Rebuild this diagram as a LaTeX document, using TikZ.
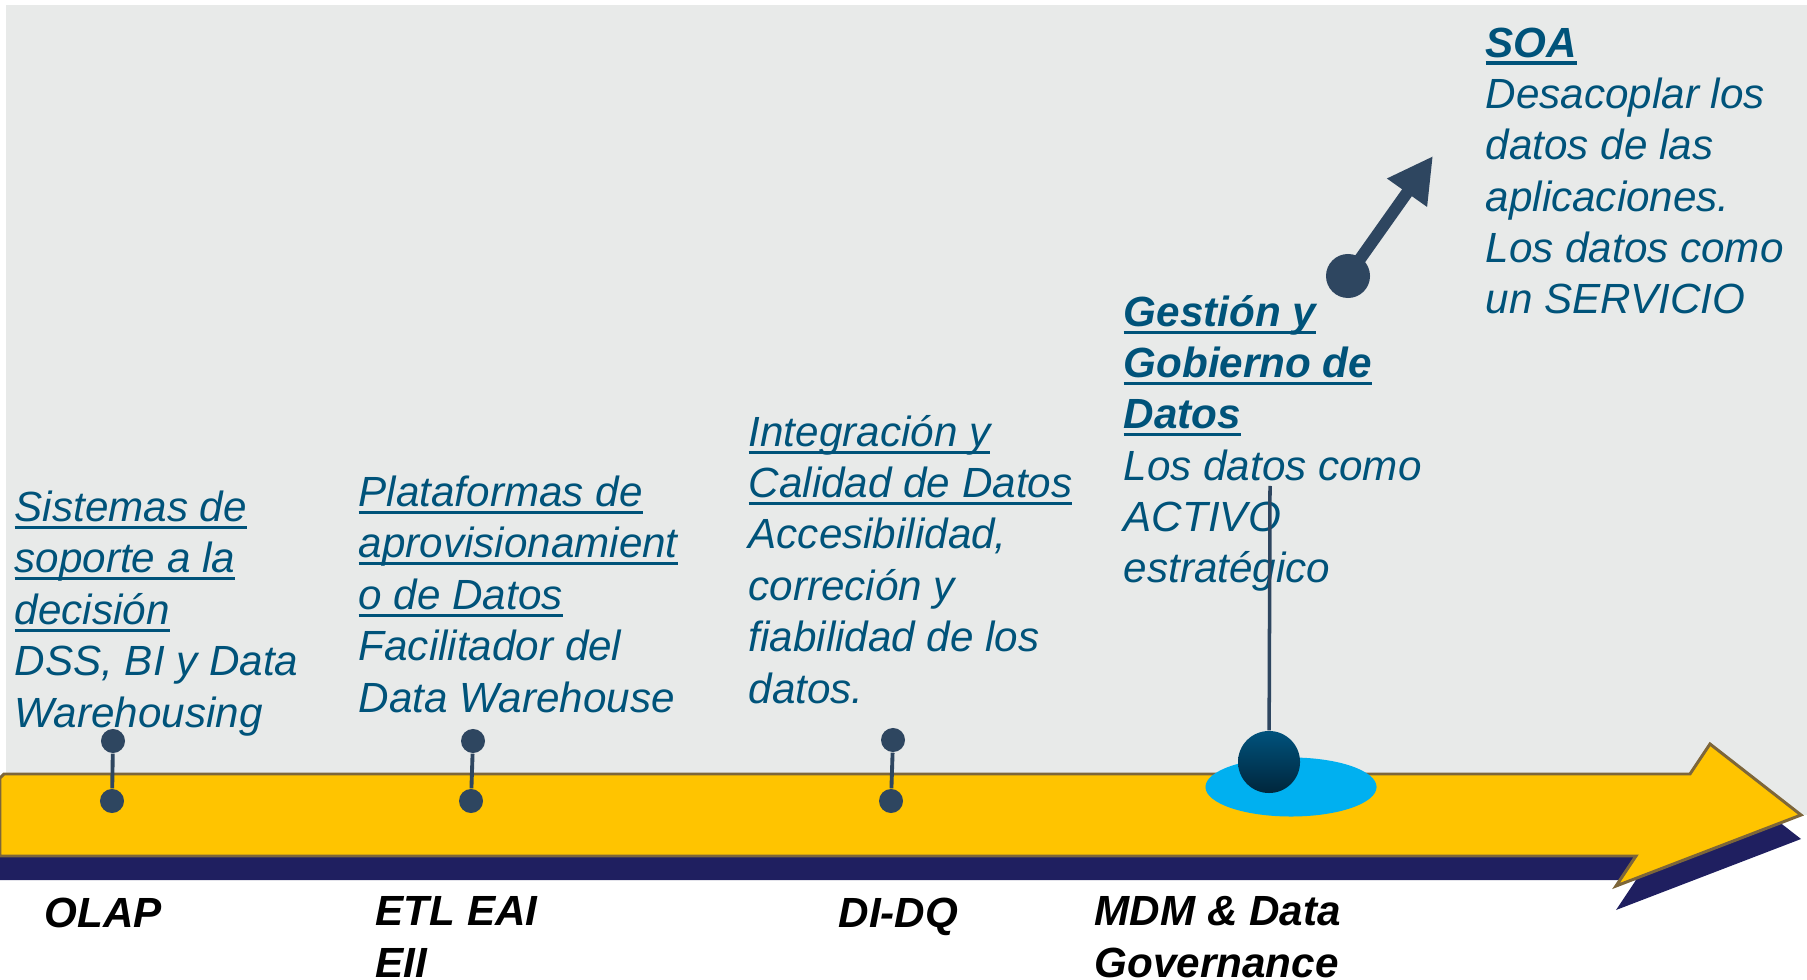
\documentclass[tikz,border=0pt]{standalone}
\usepackage{fontspec}
\setmainfont{Liberation Sans}
\usetikzlibrary{arrows.meta,shapes.geometric,shadings}
\definecolor{bgGray}{RGB}{232,234,233}
\definecolor{arrowYellow}{RGB}{255,196,0}
\definecolor{arrowEdge}{RGB}{125,102,58}
\definecolor{arrowNavy}{RGB}{31,31,96}
\definecolor{pinBlue}{RGB}{46,70,96}
\definecolor{textBlue}{RGB}{0,83,122}
\definecolor{poolCyan}{RGB}{0,176,240}
\definecolor{ballTop}{RGB}{0,82,124}
\definecolor{ballBot}{RGB}{0,38,60}
\newsavebox\ulbox
\newcommand\ulin[1]{\sbox\ulbox{#1}\rlap{\rule[-2.1pt]{\wd\ulbox}{0.9pt}}\usebox\ulbox}
\tikzset{
  stagetext/.style={anchor=base west, inner sep=0pt, align=left, text=textBlue,
    font=\itshape\fontsize{12}{14.6}\selectfont},
  tooltext/.style={anchor=base west, inner sep=0pt, align=left,
    font=\bfseries\itshape\fontsize{12}{14.6}\selectfont},
  pindot/.style={circle, fill=pinBlue, inner sep=0pt, minimum size=0.24cm},
  pinline/.style={draw=pinBlue, line width=1.1pt},
  timeline/.style={line width=0.85pt, line join=miter},
}
\begin{document}
\begin{tikzpicture}[x=0.01cm, y=-0.01cm]
\useasboundingbox (0,0) rectangle (1807,980);
\fill[bgGray] (6,5) rectangle (1807,815);
% timeline arrow
\fill[arrowNavy, shift={(0,24)}] (0,778) -- (4,774) -- (1690,774) -- (1710,744) -- (1801,815)
  -- (1616,886) -- (1636,856) -- (0,856) -- cycle;
\filldraw[timeline, fill=arrowYellow, draw=arrowEdge] (0,778) -- (4,774) -- (1690,774) -- (1710,744)
  -- (1801,815) -- (1616,886) -- (1636,856) -- (0,856) -- cycle;
% pins
\node[pindot] (olapT) at (113,741){};
\node[pindot] (olapB) at (112,801){};
\draw[pinline] (olapT) -- (olapB);
\node[pindot] (etlT) at (473,741){};
\node[pindot] (etlB) at (471,801){};
\draw[pinline] (etlT) -- (etlB);
\node[pindot] (didqT) at (893,740){};
\node[pindot] (didqB) at (891,801){};
\draw[pinline] (didqT) -- (didqB);
\node[ellipse, fill=poolCyan, inner sep=0pt, minimum width=1.71cm, minimum height=0.59cm] (pool) at (1291,787){};
\node[circle, inner sep=0pt, minimum size=0.62cm, top color=ballTop, bottom color=ballBot] (mdmBall) at (1269,762){};
% stage texts (anchored at the baseline of their last line)
\node[stagetext] (dss) at (14,727) {\ulin{Sistemas de}\\\ulin{soporte a la}\\\ulin{decisión}\\DSS, BI y Data\\Warehousing};
\node[stagetext] (etl) at (358,712) {\ulin{Plataformas de}\\\ulin{aprovisionamient}\\\ulin{o de Datos}\\Facilitador del\\Data Warehouse};
\node[stagetext] (didq) at (748,703) {\ulin{Integración y}\\\ulin{Calidad de Datos}\\Accesibilidad,\\correción y\\fiabilidad de los\\datos.};
\node[stagetext] (mdm) at (1123,583) {\ulin{\bfseries Gestión y}\\\ulin{\bfseries Gobierno de}\\\ulin{\bfseries Datos}\\Los datos como\\ACTIVO\\estratégico};
\node[stagetext] (soa) at (1485,314) {\ulin{\bfseries SOA}\\Desacoplar los\\datos de las\\aplicaciones.\\Los datos como\\un SERVICIO};
% tool labels
\node[tooltext] (olap) at (44,927) {OLAP};
\node[tooltext] (etlTool) at (375,977) {ETL EAI\\EII};
\node[tooltext] (didqTool) at (838,927) {DI-DQ};
\node[tooltext] (mdmTool) at (1094,977) {MDM \& Data\\Governance};
\coordinate (mdmTop) at (1270,486);
\draw[pinline, line width=1pt] (mdmTop) -- (mdmBall);
% soa arrow
\node[circle, fill=pinBlue, inner sep=0pt, minimum size=0.44cm] (soaDot) at (1348,276){};
\coordinate (soaTip) at (1433,156);
\draw[pinBlue, line width=3.4pt, -{Triangle[length=12.8pt, width=13pt]}] (soaDot.center) -- (soaTip);
\end{tikzpicture}
\end{document}
